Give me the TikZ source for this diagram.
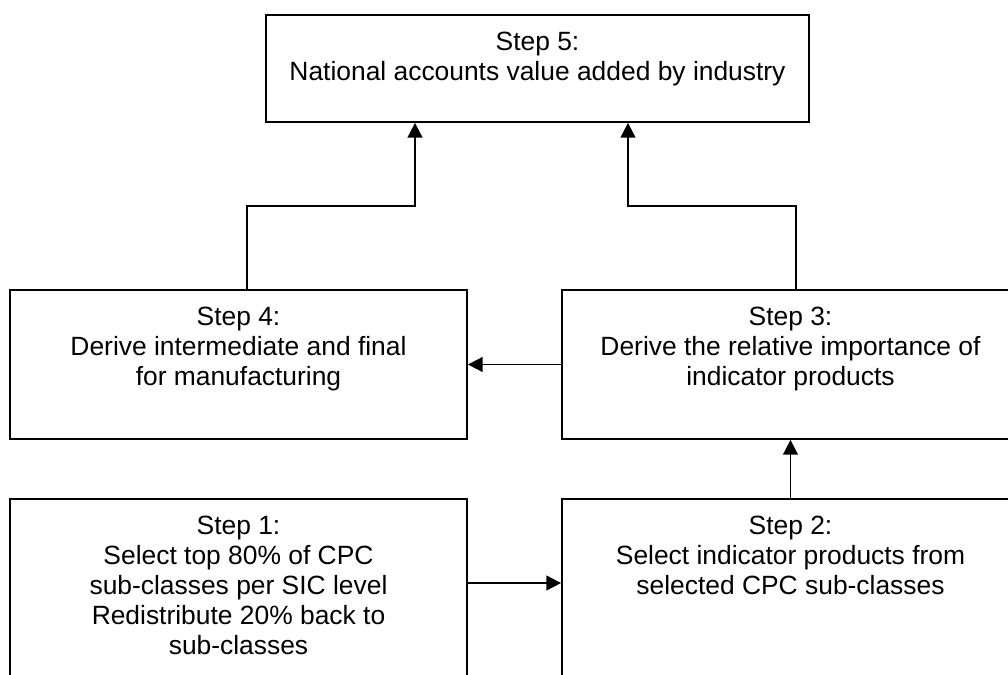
\documentclass[tikz,border=0pt]{standalone}
\usepackage{fontspec}
\setmainfont{Liberation Sans}
\usetikzlibrary{arrows.meta}

% text of a box: width, height, lines (top aligned)
\newcommand{\boxtext}[3]{\parbox[c][#2][t]{#1}{\centering\vspace*{13pt}#3}}

\begin{document}
\begin{tikzpicture}[x=0.75pt,y=-0.75pt,
    stepbox/.style={draw, line width=1.3pt, inner sep=0pt, rectangle,
      font=\fontsize{19.8}{22.5}\selectfont},
    flow/.style={line width=1.3pt, -{Triangle[length=11pt,width=11pt]}}]
    \useasboundingbox (0,0) rectangle (1008,675);
    \clip (0,0) rectangle (1008,675);% page is cut at the lower edge
    \node[stepbox] (s5) at (537.5,68.5)
        {\boxtext{407.25pt}{80.25pt}{Step 5:\\National accounts value added by industry}};
    \node[stepbox] (s4) at (238.5,364.5)
        {\boxtext{342.75pt}{111.75pt}{Step 4:\\Derive intermediate and final\\for manufacturing}};
    \node[stepbox] (s3) at (790.5,364.5)
        {\boxtext{342.75pt}{111.75pt}{Step 3:\\Derive the relative importance of\\indicator products}};
    \node[stepbox] (s1) at (238.5,599)
        {\boxtext{342.75pt}{150pt}{Step 1:\\Select top 80\% of CPC\\sub-classes per SIC level\\Redistribute 20\% back to\\sub-classes}};
    \node[stepbox] (s2) at (790.5,599)
        {\boxtext{342.75pt}{150pt}{Step 2:\\Select indicator products from\\selected CPC sub-classes}};
    % bends of the two upper connectors
    \coordinate (j4) at (247,206);
    \coordinate (k4) at (415,206);
    \coordinate (j3) at (796,206);
    \coordinate (k3) at (628,206);
    \coordinate (m12) at (500,583);
    \draw[flow] (j4 |- s4.north) -- (j4) -- (k4) -- (k4 |- s5.south);
    \draw[flow] (j3 |- s3.north) -- (j3) -- (k3) -- (k3 |- s5.south);
    \draw[flow] (s3) -- (s4);
    \draw[flow] (s2.north) -- (s3.south);
    \draw[flow] (m12 -| s1.east) -- (m12 -| s2.west);
\end{tikzpicture}
\end{document}
